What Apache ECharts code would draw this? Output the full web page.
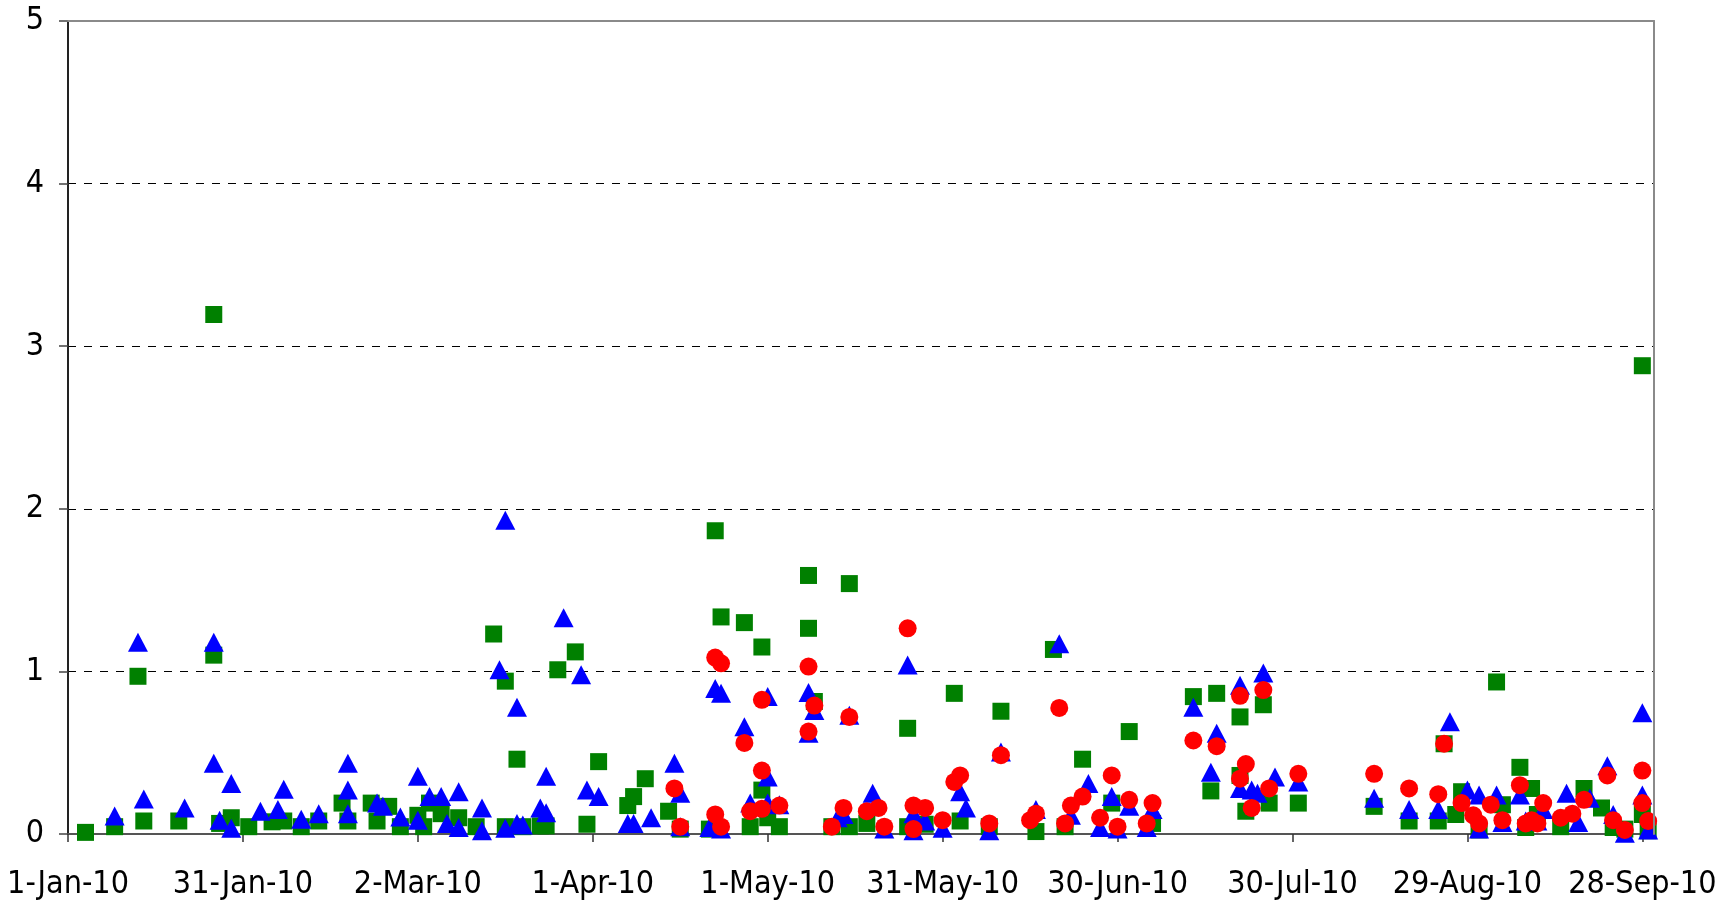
<!DOCTYPE html>
<html>
<head>
<meta charset="utf-8">
<script src="https://cdn.jsdelivr.net/npm/echarts@6/dist/echarts.min.js"></script>
<style>
  html, body { margin: 0; padding: 0; background: #fff; }
  #chart { width: 1736px; height: 903px; }
</style>
</head>
<body>
<div id="chart"></div>
<script>
// ---- Data ----
const startDate = '2010-01-01';
const endDate = '2010-09-30';
const xTickLabels = ['1-Jan-10','31-Jan-10','2-Mar-10','1-Apr-10','1-May-10','31-May-10','30-Jun-10','30-Jul-10','29-Aug-10','28-Sep-10'];
const yTickLabels = ['0','1','2','3','4','5'];

const greenSquares = [
  ['2010-01-04',0.01],['2010-01-09',0.045],['2010-01-13',0.97],['2010-01-14',0.08],['2010-01-20',0.08],
  ['2010-01-26',1.10],['2010-01-26',3.195],['2010-01-27',0.065],['2010-01-29',0.10],['2010-02-01',0.045],
  ['2010-02-05',0.075],['2010-02-07',0.08],['2010-02-10',0.045],['2010-02-13',0.08],['2010-02-17',0.19],
  ['2010-02-18',0.08],['2010-02-22',0.19],['2010-02-23',0.08],['2010-02-25',0.17],['2010-02-27',0.045],
  ['2010-03-02',0.115],['2010-03-03',0.045],['2010-03-04',0.19],['2010-03-06',0.125],['2010-03-09',0.10],
  ['2010-03-12',0.045],['2010-03-15',1.23],['2010-03-17',0.94],['2010-03-17',0.045],['2010-03-19',0.46],
  ['2010-03-20',0.045],['2010-03-23',0.05],['2010-03-24',0.05],['2010-03-26',1.01],['2010-03-29',1.12],
  ['2010-03-31',0.06],['2010-04-02',0.445],['2010-04-07',0.175],['2010-04-08',0.23],['2010-04-10',0.34],
  ['2010-04-14',0.14],['2010-04-16',0.03],['2010-04-22',1.865],['2010-04-21',0.03],['2010-04-23',1.335],
  ['2010-04-27',1.30],['2010-04-28',0.045],['2010-04-30',1.15],['2010-04-30',0.27],['2010-05-01',0.10],
  ['2010-05-03',0.045],['2010-05-08',1.59],['2010-05-08',1.265],['2010-05-09',0.815],['2010-05-12',0.045],
  ['2010-05-15',0.045],['2010-05-15',1.54],['2010-05-18',0.065],['2010-05-25',0.65],['2010-05-25',0.045],
  ['2010-05-28',0.06],['2010-06-02',0.865],['2010-06-03',0.08],['2010-06-08',0.045],['2010-06-10',0.755],
  ['2010-06-16',0.015],['2010-06-19',1.135],['2010-06-21',0.045],['2010-06-24',0.46],['2010-06-29',0.19],
  ['2010-07-02',0.63],['2010-07-06',0.065],['2010-07-13',0.845],['2010-07-16',0.265],['2010-07-17',0.865],
  ['2010-07-21',0.72],['2010-07-21',0.36],['2010-07-22',0.14],['2010-07-25',0.795],['2010-07-26',0.19],
  ['2010-07-31',0.19],['2010-08-13',0.17],['2010-08-19',0.08],['2010-08-24',0.08],['2010-08-25',0.555],
  ['2010-08-27',0.12],['2010-08-28',0.26],['2010-08-31',0.025],['2010-09-03',0.935],['2010-09-04',0.18],
  ['2010-09-07',0.41],['2010-09-08',0.04],['2010-09-09',0.28],['2010-09-10',0.12],['2010-09-14',0.045],
  ['2010-09-18',0.28],['2010-09-21',0.16],['2010-09-23',0.04],['2010-09-25',0.03],['2010-09-28',2.88],
  ['2010-09-28',0.12],['2010-09-29',0.02]
];

const blueTriangles = [
  ['2010-01-09',0.11],['2010-01-13',1.18],['2010-01-14',0.215],['2010-01-21',0.16],['2010-01-26',1.18],
  ['2010-01-26',0.435],['2010-01-27',0.085],['2010-01-29',0.31],['2010-01-29',0.035],['2010-02-03',0.14],
  ['2010-02-06',0.15],['2010-02-07',0.275],['2010-02-10',0.09],['2010-02-13',0.125],['2010-02-18',0.435],
  ['2010-02-18',0.27],['2010-02-18',0.125],['2010-02-23',0.19],['2010-02-24',0.17],['2010-02-27',0.105],
  ['2010-03-02',0.355],['2010-03-02',0.085],['2010-03-04',0.23],['2010-03-06',0.23],['2010-03-07',0.065],
  ['2010-03-09',0.26],['2010-03-09',0.04],['2010-03-13',0.16],['2010-03-13',0.02],['2010-03-16',1.01],
  ['2010-03-17',1.93],['2010-03-17',0.035],['2010-03-19',0.78],['2010-03-19',0.065],['2010-03-20',0.055],
  ['2010-03-23',0.16],['2010-03-24',0.13],['2010-03-24',0.355],['2010-03-27',1.33],['2010-03-30',0.98],
  ['2010-03-31',0.27],['2010-04-02',0.23],['2010-04-07',0.065],['2010-04-08',0.065],['2010-04-11',0.10],
  ['2010-04-15',0.435],['2010-04-16',0.25],['2010-04-16',0.045],['2010-04-22',0.895],['2010-04-23',0.865],
  ['2010-04-21',0.04],['2010-04-23',0.03],['2010-04-27',0.66],['2010-04-28',0.19],['2010-05-01',0.845],
  ['2010-05-01',0.35],['2010-05-01',0.19],['2010-05-03',0.18],['2010-05-08',0.87],['2010-05-09',0.76],
  ['2010-05-08',0.62],['2010-05-13',0.10],['2010-05-14',0.12],['2010-05-15',0.73],['2010-05-19',0.25],
  ['2010-05-21',0.03],['2010-05-25',1.04],['2010-05-26',0.125],['2010-05-28',0.08],['2010-05-26',0.02],
  ['2010-05-31',0.035],['2010-06-03',0.26],['2010-06-04',0.16],['2010-06-08',0.02],['2010-06-10',0.505],
  ['2010-06-16',0.15],['2010-06-20',1.17],['2010-06-22',0.115],['2010-06-25',0.31],['2010-06-27',0.04],
  ['2010-06-29',0.23],['2010-06-30',0.03],['2010-07-02',0.17],['2010-07-05',0.04],['2010-07-06',0.15],
  ['2010-07-13',0.78],['2010-07-16',0.38],['2010-07-17',0.62],['2010-07-21',0.915],['2010-07-21',0.28],
  ['2010-07-23',0.27],['2010-07-25',0.99],['2010-07-24',0.25],['2010-07-27',0.35],['2010-07-31',0.32],
  ['2010-08-13',0.22],['2010-08-19',0.15],['2010-08-24',0.15],['2010-08-26',0.69],['2010-08-29',0.27],
  ['2010-08-31',0.24],['2010-08-31',0.03],['2010-09-03',0.24],['2010-09-04',0.07],['2010-09-07',0.24],
  ['2010-09-08',0.08],['2010-09-10',0.08],['2010-09-11',0.15],['2010-09-15',0.25],['2010-09-17',0.07],
  ['2010-09-19',0.22],['2010-09-22',0.42],['2010-09-23',0.12],['2010-09-25',0.005],['2010-09-28',0.745],
  ['2010-09-28',0.24],['2010-09-29',0.025]
];

const redCircles = [
  ['2010-04-15',0.28],['2010-04-16',0.045],['2010-04-22',1.085],['2010-04-23',1.05],['2010-04-22',0.12],
  ['2010-04-23',0.045],['2010-04-27',0.56],['2010-04-28',0.14],['2010-04-30',0.825],['2010-04-30',0.39],
  ['2010-04-30',0.155],['2010-05-03',0.175],['2010-05-08',1.03],['2010-05-09',0.79],['2010-05-08',0.63],
  ['2010-05-15',0.72],['2010-05-12',0.045],['2010-05-14',0.16],['2010-05-18',0.14],['2010-05-20',0.16],
  ['2010-05-21',0.045],['2010-05-25',1.265],['2010-05-26',0.175],['2010-05-28',0.16],['2010-05-26',0.03],
  ['2010-05-31',0.085],['2010-06-02',0.32],['2010-06-03',0.36],['2010-06-08',0.065],['2010-06-10',0.485],
  ['2010-06-16',0.125],['2010-06-15',0.085],['2010-06-20',0.775],['2010-06-21',0.065],['2010-06-22',0.175],
  ['2010-06-24',0.23],['2010-06-27',0.10],['2010-06-29',0.36],['2010-06-30',0.045],['2010-07-02',0.21],
  ['2010-07-05',0.065],['2010-07-06',0.19],['2010-07-13',0.575],['2010-07-17',0.54],['2010-07-21',0.85],
  ['2010-07-21',0.34],['2010-07-22',0.43],['2010-07-23',0.16],['2010-07-25',0.885],['2010-07-26',0.28],
  ['2010-07-31',0.37],['2010-08-13',0.37],['2010-08-19',0.28],['2010-08-24',0.245],['2010-08-25',0.555],
  ['2010-08-28',0.19],['2010-08-30',0.115],['2010-08-31',0.065],['2010-09-02',0.18],['2010-09-04',0.085],
  ['2010-09-07',0.30],['2010-09-08',0.065],['2010-09-09',0.085],['2010-09-10',0.065],['2010-09-11',0.19],
  ['2010-09-14',0.10],['2010-09-16',0.125],['2010-09-18',0.21],['2010-09-22',0.36],['2010-09-23',0.085],
  ['2010-09-25',0.025],['2010-09-28',0.39],['2010-09-28',0.19],['2010-09-29',0.08]
];

// ---- helpers ----
const DAY = 86400000;
function toDay(s) {
  const p = s.split('-').map(Number);
  const b = startDate.split('-').map(Number);
  return Math.round((Date.UTC(p[0], p[1] - 1, p[2]) - Date.UTC(b[0], b[1] - 1, b[2])) / DAY);
}
const xMax = toDay(endDate);
const toPoints = arr => arr.map(d => [toDay(d[0]), d[1]]);

const FONT = "'DejaVu Sans Condensed', 'DejaVu Sans', sans-serif";

const chart = echarts.init(document.getElementById('chart'), null, { renderer: 'canvas' });
chart.setOption({
  backgroundColor: '#ffffff',
  animation: false,
  grid: { left: 68, right: 82, top: 21, bottom: 69, containLabel: false },
  xAxis: [{
    type: 'value', min: 0, max: xMax, interval: 30,
    axisLine: { show: true, onZero: false, lineStyle: { color: '#555', width: 2 } },
    axisTick: { show: true, inside: false, length: 8, lineStyle: { color: '#333', width: 1.5 } },
    axisLabel: {
      show: true, margin: 35, color: '#000', fontSize: 32, fontFamily: FONT,
      showMaxLabel: false,
      formatter: v => (v % 30 === 0 ? (xTickLabels[v / 30] || '') : '')
    },
    splitLine: { show: false }
  }, {
    type: 'value', min: 0, max: xMax, position: 'top', z: 5,
    axisLine: { show: true, onZero: false, lineStyle: { color: '#8a8a8a', width: 2 } },
    axisTick: { show: false }, axisLabel: { show: false }, splitLine: { show: false }
  }],
  yAxis: [{
    type: 'value', min: 0, max: 5, interval: 1,
    axisLine: { show: true, onZero: false, lineStyle: { color: '#222', width: 2 } },
    axisTick: { show: true, inside: false, length: 9, lineStyle: { color: '#444', width: 1.5 } },
    axisLabel: {
      show: true, margin: 24, color: '#000', fontSize: 32, fontFamily: FONT,
      formatter: v => yTickLabels[v] || ''
    },
    splitLine: { show: true, lineStyle: { color: '#000', width: 1, type: [8, 8] } }
  }, {
    type: 'value', min: 0, max: 5, position: 'right', z: 5,
    axisLine: { show: true, onZero: false, lineStyle: { color: '#8a8a8a', width: 2 } },
    axisTick: { show: false }, axisLabel: { show: false }, splitLine: { show: false }
  }],
  series: [{
    name: 'Squares', type: 'scatter', symbol: 'rect', symbolSize: 17,
    itemStyle: { color: '#008000', opacity: 1 }, data: toPoints(greenSquares), z: 2
  }, {
    name: 'Triangles', type: 'scatter', symbol: 'triangle', symbolSize: [20, 19],
    itemStyle: { color: '#0000ff', opacity: 1 }, data: toPoints(blueTriangles), z: 3
  }, {
    name: 'Circles', type: 'scatter', symbol: 'circle', symbolSize: 18,
    itemStyle: { color: '#ff0000', opacity: 1 }, data: toPoints(redCircles), z: 4
  }]
});
</script>
</body>
</html>
